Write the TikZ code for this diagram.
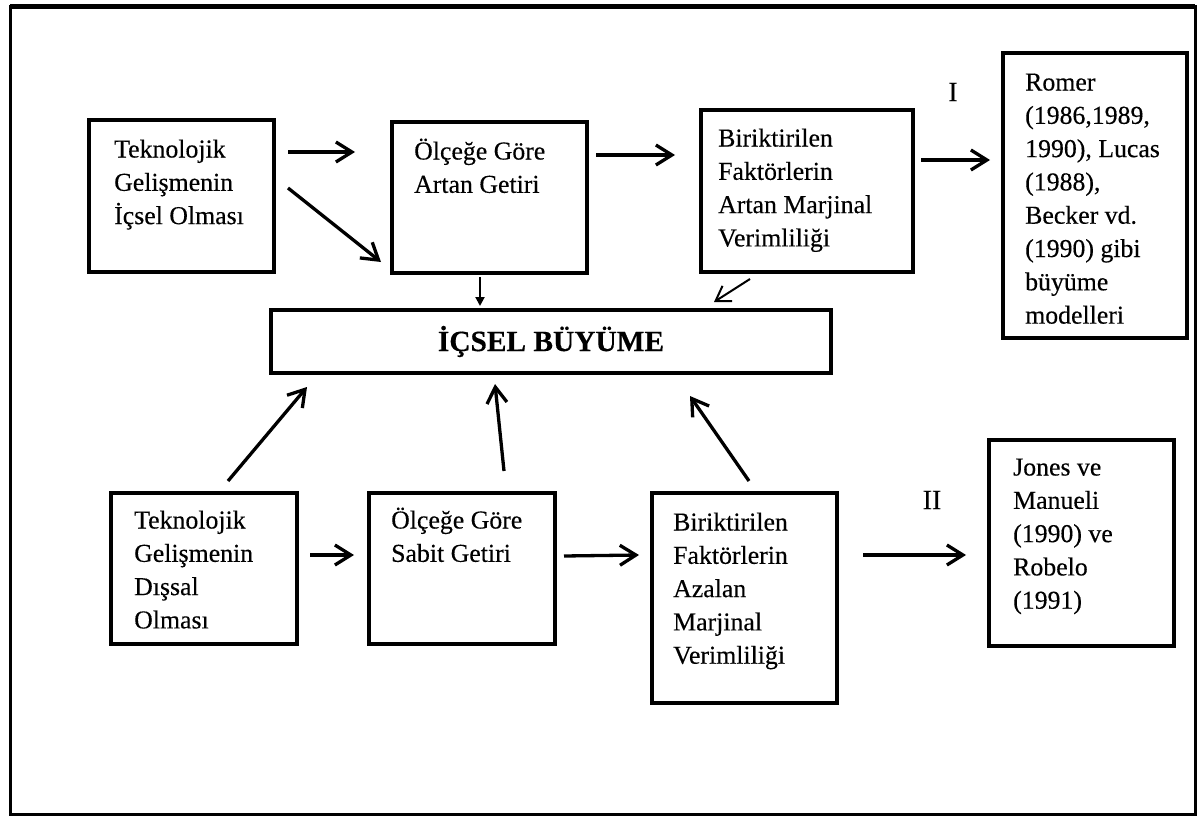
\documentclass[tikz,border=0pt]{standalone}
\usepackage{fontspec}
\setmainfont{Liberation Serif}[FakeBold=0.3]
\usetikzlibrary{arrows.meta}
\begin{document}
\begin{tikzpicture}[x=1pt,y=-1pt,
  frame/.style={draw, line width=3pt},
  box/.style={draw, line width=3.3pt, inner sep=0pt, rectangle},
  txt/.style={anchor=north west, inner sep=0pt, align=left,
    font=\fontsize{25.8}{33.3}\selectfont},
  lbl/.style={inner sep=0pt, font=\fontsize{28}{33.3}\selectfont},
  thick arrow/.style={line width=3.3pt, -{Straight Barb[length=16pt,width=20pt]}},
  thin arrow/.style={line width=2pt, -{Straight Barb[length=14pt,width=18pt]}},
  solid arrow/.style={line width=2pt, -{Triangle[length=9pt,width=9pt]}}]

\useasboundingbox (0,0) rectangle (1203,816);
\fill[white] (0,0) rectangle (1203,816);
\draw[frame] (10,7) rectangle (1195,814);
\draw[line width=4.5pt] (10,6.5) -- (1195,6.5);

% upper row
\node[box, minimum width=185pt, minimum height=152pt] (A) at (181.5,196) {};
\node[txt] (At) at (114,134) {\strut Teknolojik\\Gelişmenin\\İçsel Olması};

\node[box, minimum width=195pt, minimum height=151pt] (B) at (489.5,197.5) {};
\node[txt] (Bt) at (414,136) {\strut Ölçeğe Göre\\Artan Getiri};

\node[box, minimum width=212pt, minimum height=162pt] (C) at (807,191) {};
\node[txt] (Ct) at (718,123) {\strut Biriktirilen\\Faktörlerin\\Artan Marjinal\\Verimliliği};

\node[box, minimum width=184pt, minimum height=285pt] (D) at (1095,195.5) {};
\node[txt] (Dt) at (1025,67) {\strut Romer\\(1986,1989,\\1990), Lucas\\(1988),\\Becker vd.\\(1990) gibi\\büyüme\\modelleri};

\node[lbl] (L1) at (953,92) {I};

% central box
\node[box, minimum width=560pt, minimum height=63pt,
  font=\fontsize{29.4}{33}\selectfont\bfseries] (E) at (551,341.5) {İÇSEL BÜYÜME};

% lower row
\node[box, minimum width=186pt, minimum height=151pt] (F) at (204,568.5) {};
\node[txt] (Ft) at (134,505) {\strut Teknolojik\\Gelişmenin\\Dışsal\\Olması};

\node[box, minimum width=186pt, minimum height=151pt] (G) at (462,568.5) {};
\node[txt] (Gt) at (391,505) {\strut Ölçeğe Göre\\Sabit Getiri};

\node[box, minimum width=185pt, minimum height=210pt] (H) at (744.5,598) {};
\node[txt] (Ht) at (673,507) {\strut Biriktirilen\\Faktörlerin\\Azalan\\Marjinal\\Verimliliği};

\node[box, minimum width=185pt, minimum height=206pt] (J) at (1081.5,543) {};
\node[txt] (Jt) at (1013,452) {\strut Jones ve\\Manueli\\(1990) ve\\Robelo\\(1991)};

\node[lbl] (L2) at (932,500) {II};

% connector end points (arrows stop short of the boxes)
\coordinate (ab1) at (288,152);   \coordinate (ab2) at (355,152);
\coordinate (ad1) at (288,188);   \coordinate (ad2) at (381,262);
\coordinate (bc1) at (596,155);   \coordinate (bc2) at (675,155);
\coordinate (cd1) at (921,160);   \coordinate (cd2) at (990,160);
\coordinate (be1) at (480,277);   \coordinate (be2) at (480,306);
\coordinate (ce1) at (750,279);   \coordinate (ce2) at (714,302);
\coordinate (fe1) at (228,481);   \coordinate (fe2) at (307,387);
\coordinate (ge1) at (504,471);   \coordinate (ge2) at (495,384);
\coordinate (he1) at (749,481);   \coordinate (he2) at (690,396);
\coordinate (fg1) at (310,555);   \coordinate (fg2) at (354,555);
\coordinate (gh1) at (564,556);   \coordinate (gh2) at (639,555);
\coordinate (hj1) at (863,555);   \coordinate (hj2) at (966,555);

\draw[thick arrow] (ab1) -- (ab2);
\draw[thick arrow] (ad1) -- (ad2);
\draw[thick arrow] (bc1) -- (bc2);
\draw[thick arrow] (cd1) -- (cd2);
\draw[solid arrow] (be1) -- (be2);
\draw[thin arrow] (ce1) -- (ce2);
\draw[thick arrow] (fe1) -- (fe2);
\draw[thick arrow] (ge1) -- (ge2);
\draw[thick arrow] (he1) -- (he2);
\draw[thick arrow] (fg1) -- (fg2);
\draw[thick arrow] (gh1) -- (gh2);
\draw[thick arrow] (hj1) -- (hj2);
\end{tikzpicture}
\end{document}
